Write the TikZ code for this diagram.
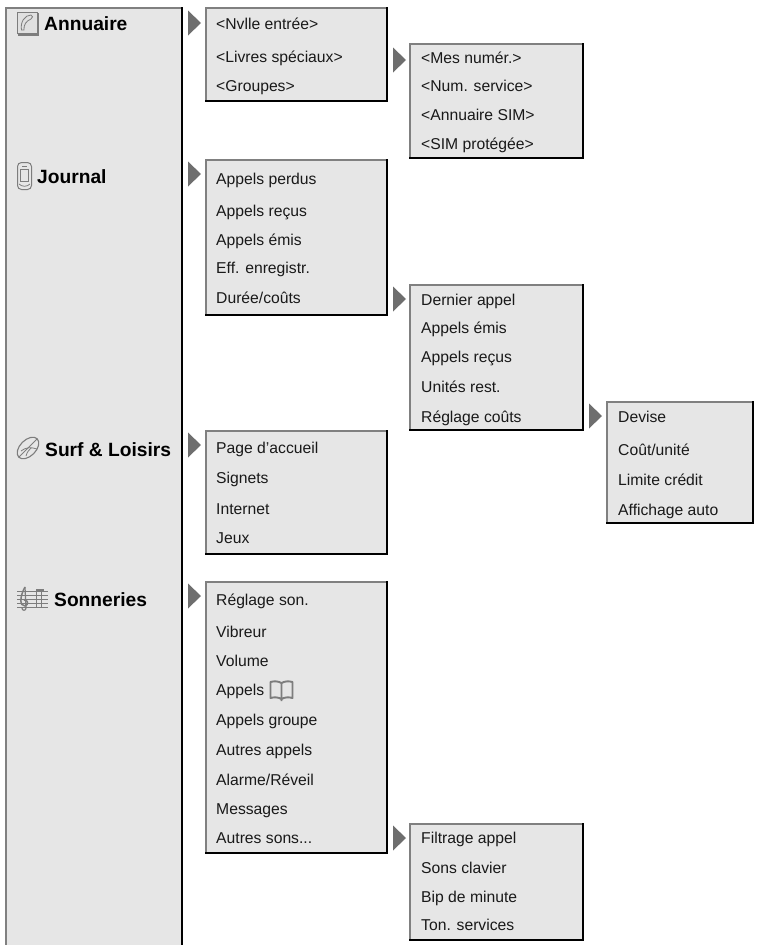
\documentclass[tikz,border=0pt]{standalone}
\usepackage{fontspec}
\setmainfont{Liberation Sans}
\definecolor{panelgray}{RGB}{230,230,230}
\definecolor{edgegray}{RGB}{128,128,128}
\definecolor{arrowgray}{RGB}{110,110,110}
\definecolor{icongray}{RGB}{125,125,125}
\tikzset{
  x=1pt,y=-1pt,
  item/.style={anchor=base west,inner sep=0pt,font=\fontsize{15.7}{17}\selectfont,text=black!90},
  head/.style={anchor=base west,inner sep=0pt,font=\fontsize{19.2}{21}\selectfont\bfseries},
  tri/.style={fill=arrowgray,draw=none},
  ic/.style={draw=icongray,line width=.8pt,fill=none}
}
\newcommand{\menubox}[4]{% x0 y0 x1 y1
  \fill[panelgray] (#1,#2) rectangle (#3,#4);
  \draw[edgegray,line width=2pt] (#1,#4) -- (#1,#2) -- (#3,#2);
  \draw[black,line width=2.6pt] (#1-1,#4) -- (#3,#4) -- (#3,#2-1);
}
\newcommand{\tritip}[2]{\fill[tri] (#1,#2-12.5) -- (#1+13,#2) -- (#1,#2+12.5) -- cycle;}
\begin{document}
\begin{tikzpicture}
\useasboundingbox (0,0) rectangle (756,945);
% left panel
\fill[panelgray] (6,8) rectangle (182,945);
\draw[edgegray,line width=2pt] (6,945) -- (6,8) -- (182,8);
\draw[black,line width=2.6pt] (182,7) -- (182,945);
% arrows
\tritip{188}{23}
\tritip{188}{174}
\tritip{188}{445}
\tritip{188}{596}
\tritip{393}{60}
\tritip{393}{299}
\tritip{589}{416}
\tritip{393}{838}
% boxes
\menubox{206}{8}{387}{101}
\menubox{410}{44}{583}{158}
\menubox{206}{160}{387}{315}
\menubox{410}{285}{583}{430}
\menubox{607}{402}{753}{523}
\menubox{206}{431}{387}{554}
\menubox{206}{582}{387}{853}
\menubox{410}{824}{583}{940}
% Annuaire icon
\fill[white!88!black,draw=icongray,line width=.8pt] (17.5,12.5) rectangle (37,33.5);
\draw[icongray,line width=1.4pt] (17.5,34.8) -- (38,34.8) -- (38,13);
\draw[ic] (31,15) .. controls (25,15) and (20,22) .. (21.5,30) -- (24,30) .. controls (23.5,25) and (26,21) .. (31,19) .. controls (33,18) and (33,15.5) .. (31,15);
% Journal icon
\draw[ic,line width=1pt,rounded corners=4pt] (17.5,162.5) rectangle (31.5,189.5);
\draw[ic] (20.5,169.5) rectangle (28.5,181);
\draw[ic] (22,166) -- (27,166);
\draw[ic] (19,184) .. controls (22,187) and (27,187) .. (30,184);
% Surf icon
\draw[ic,line width=1.1pt,rotate around={45:(28,448)}] (28,448) ellipse (13 and 8);
\draw[ic] (19,457) -- (37,439);
\draw[ic] (21,451) .. controls (26,447) and (31,447) .. (37,449);
\draw[ic] (26,456) .. controls (27,452) and (29,450) .. (31,448);
% Sonneries icon
\foreach \yy in {591,595,599,603,607} \draw[icongray,line width=.7pt] (17,\yy) -- (48,\yy);
\draw[icongray,line width=.8pt] (36,589) -- (36,607);
\draw[icongray,line width=.8pt] (41,589) -- (41,607);
\fill[icongray] (36,589) rectangle (44,591.5);
\draw[icongray,line width=1.5pt] (25,587) .. controls (20,596) and (19,606) .. (25,606) .. controls (29,605) and (28,599) .. (24,600);
\draw[icongray,line width=1.2pt] (25,587) -- (26,608) .. controls (26,611) and (22,611) .. (22,608);
% book
\draw[icongray,line width=1.9pt,line join=round] (281.5,683) .. controls (278,681) and (274,681) .. (270.5,682) -- (270.5,698) .. controls (274,697) and (278,697) .. (281.5,699) .. controls (285,697) and (289,697) .. (292.5,698) -- (292.5,682) .. controls (289,681) and (285,681) .. (281.5,683) -- (281.5,701);
% headings
\node[head] (h1) at (44,30) {Annuaire};
\node[head] (h2) at (37,183) {Journal};
\node[head] (h3) at (45,456) {Surf \& Loisirs};
\node[head] (h4) at (54,606) {Sonneries};
% box 1
\node[item] (a1) at (216,29) {<Nvlle entrée>};
\node[item] (a2) at (216,62) {<Livres spéciaux>};
\node[item] (a3) at (216,91) {<Groupes>};
\node[item] (b1) at (421,63) {<Mes numér.>};
\node[item] (b2) at (421,91) {<Num. service>};
\node[item] (b3) at (421,120) {<Annuaire SIM>};
\node[item] (b4) at (421,149) {<SIM protégée>};
% Journal
\node[item] (c1) at (216,184) {Appels perdus};
\node[item] (c2) at (216,216) {Appels reçus};
\node[item] (c3) at (216,245) {Appels émis};
\node[item] (c4) at (216,273) {Eff. enregistr.};
\node[item] (c5) at (216,303) {Durée/coûts};
\node[item] (d1) at (421,305) {Dernier appel};
\node[item] (d2) at (421,333) {Appels émis};
\node[item] (d3) at (421,362) {Appels reçus};
\node[item] (d4) at (421,392) {Unités rest.};
\node[item] (d5) at (421,422) {Réglage coûts};
\node[item] (e1) at (618,422) {Devise};
\node[item] (e2) at (618,455) {Coût/unité};
\node[item] (e3) at (618,485) {Limite crédit};
\node[item] (e4) at (618,515) {Affichage auto};
\node[item] (f1) at (216,453) {Page d'accueil};
\node[item] (f2) at (216,483) {Signets};
\node[item] (f3) at (216,514) {Internet};
\node[item] (f4) at (216,543) {Jeux};
\node[item] (g1) at (216,605) {Réglage son.};
\node[item] (g2) at (216,637) {Vibreur};
\node[item] (g3) at (216,666) {Volume};
\node[item] (g4) at (216,695) {Appels};
\node[item] (g5) at (216,725) {Appels groupe};
\node[item] (g6) at (216,755) {Autres appels};
\node[item] (g7) at (216,785) {Alarme/Réveil};
\node[item] (g8) at (216,814) {Messages};
\node[item] (g9) at (216,843) {Autres sons...};
\node[item] (k1) at (421,843) {Filtrage appel};
\node[item] (k2) at (421,873) {Sons clavier};
\node[item] (k3) at (421,902) {Bip de minute};
\node[item] (k4) at (421,930) {Ton. services};
\end{tikzpicture}
\end{document}
